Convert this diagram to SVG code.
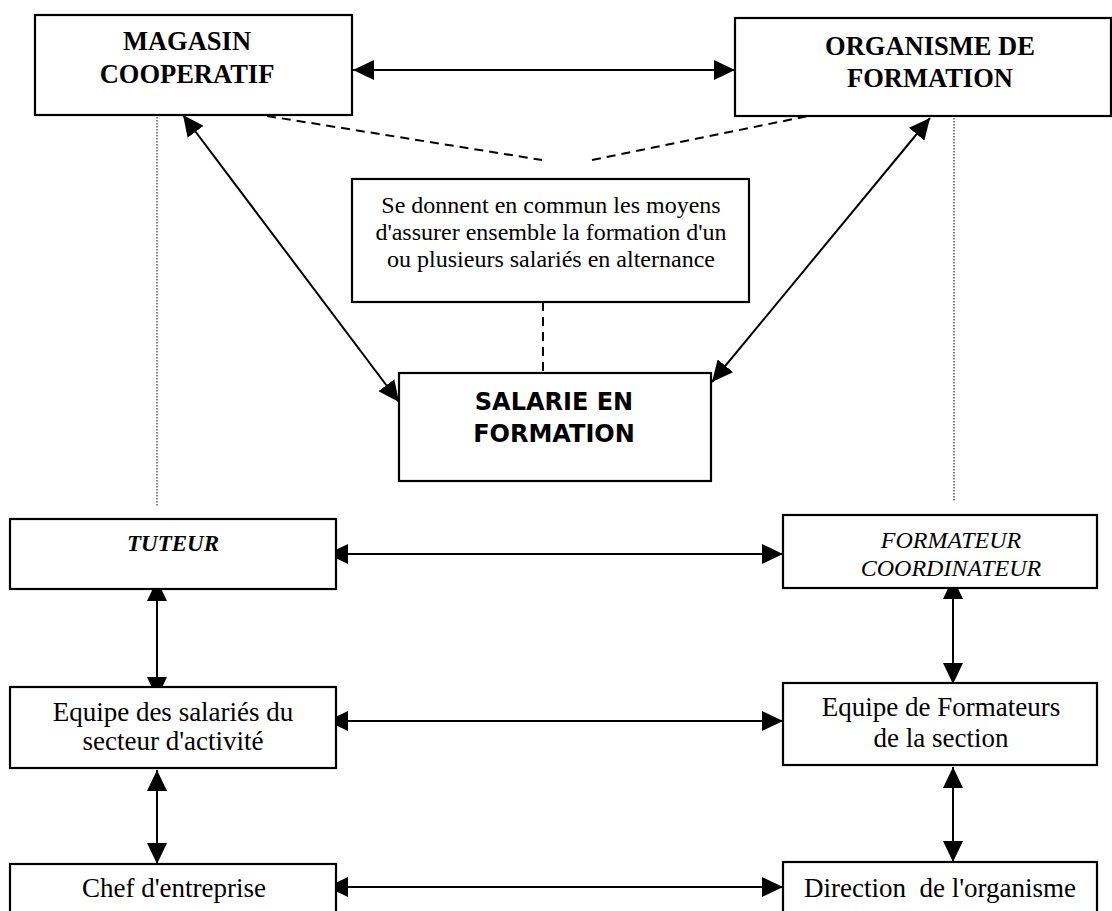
<svg xmlns="http://www.w3.org/2000/svg" width="1112" height="911" viewBox="0 0 1112 911">
<defs>
<marker id="ah" markerUnits="userSpaceOnUse" markerWidth="21" markerHeight="20" refX="21" refY="10" orient="auto-start-reverse" viewBox="0 0 21 20">
<path d="M0,0 L21,10 L0,20 z" fill="#000"/>
</marker>
<style>
.box{fill:#fff;stroke:#000;stroke-width:2.2}
.t{font-family:"Liberation Serif","Times New Roman",serif;fill:#000;text-anchor:middle}
.b{font-weight:bold;font-size:26.5px}
.r{font-size:27px}
.s{font-family:"DejaVu Sans",Verdana,sans-serif;font-weight:bold;font-size:24px;fill:#000;text-anchor:middle}
.arr{stroke:#000;stroke-width:2;fill:none;marker-start:url(#ah);marker-end:url(#ah)}
.dash{stroke:#000;stroke-width:2;fill:none;stroke-dasharray:9,6}
.dot{stroke:#333;stroke-width:1.2;fill:none;stroke-dasharray:1.5,1.5}
</style>
</defs>
<rect width="1112" height="911" fill="#fff"/>
<g id="connectors">
<line class="dot" x1="157" y1="96" x2="157" y2="507"/>
<line class="dot" x1="954" y1="118" x2="954" y2="501"/>
<line class="dash" x1="267" y1="116" x2="542" y2="160"/>
<line class="dash" x1="592" y1="160" x2="833" y2="111"/>
<line class="dash" x1="543" y1="302" x2="543" y2="373"/>
<line class="arr" x1="353" y1="70" x2="735" y2="70"/>
<line class="arr" x1="183" y1="115" x2="399" y2="402"/>
<line class="arr" x1="930" y1="118" x2="712" y2="382"/>
<line class="arr" x1="327" y1="554" x2="783" y2="554"/>
<line class="arr" x1="157" y1="580" x2="157" y2="698"/>
<line class="arr" x1="953" y1="578" x2="953" y2="684"/>
<line class="arr" x1="327" y1="721" x2="783" y2="721"/>
<line class="arr" x1="157" y1="770" x2="157" y2="864"/>
<line class="arr" x1="953" y1="767" x2="953" y2="862"/>
<line class="arr" x1="327" y1="887" x2="783" y2="887"/>
</g>
<g id="magasin">
<rect class="box" x="35" y="15" width="317" height="100"/>
<text class="t b" x="187" y="50">MAGASIN</text>
<text class="t b" x="187" y="83">COOPERATIF</text>
</g>
<g id="organisme">
<rect class="box" x="735" y="18" width="376" height="98"/>
<text class="t b" x="930" y="55">ORGANISME DE</text>
<text class="t b" x="930" y="87">FORMATION</text>
</g>
<g id="commun">
<rect class="box" x="352" y="179" width="397" height="123"/>
<text class="t" style="font-size:24px" x="551" y="213">Se donnent en commun les moyens</text>
<text class="t" style="font-size:24px" x="551" y="240">d'assurer ensemble la formation d'un</text>
<text class="t" style="font-size:24px" x="551" y="267">ou plusieurs salariés en alternance</text>
</g>
<g id="salarie">
<rect class="box" x="399" y="373" width="312" height="108"/>
<text class="s" x="554" y="410">SALARIE EN</text>
<text class="s" x="554" y="442">FORMATION</text>
</g>
<g id="tuteur">
<rect class="box" x="10" y="519" width="326" height="70"/>
<text class="t" style="font-size:23px;font-weight:bold;font-style:italic" x="173" y="551">TUTEUR</text>
</g>
<g id="formateur">
<rect class="box" x="783" y="515" width="314" height="73"/>
<text class="t" style="font-size:24px;font-style:italic" x="951" y="548">FORMATEUR</text>
<text class="t" style="font-size:24px;font-style:italic" x="951" y="576">COORDINATEUR</text>
</g>
<g id="equipe-salaries">
<rect class="box" x="10" y="687" width="326" height="81"/>
<text class="t r" x="173" y="721">Equipe des salariés du</text>
<text class="t r" x="173" y="750">secteur d'activité</text>
</g>
<g id="equipe-formateurs">
<rect class="box" x="783" y="683" width="314" height="82"/>
<text class="t r" x="941" y="716">Equipe de Formateurs</text>
<text class="t r" x="941" y="747">de la section</text>
</g>
<g id="chef">
<rect class="box" x="10" y="864" width="326" height="60"/>
<text class="t r" x="174" y="897">Chef d'entreprise</text>
</g>
<g id="direction">
<rect class="box" x="783" y="862" width="314" height="62"/>
<text class="t r" x="940" y="897" style="white-space:pre">Direction  de l'organisme</text>
</g>
</svg>
